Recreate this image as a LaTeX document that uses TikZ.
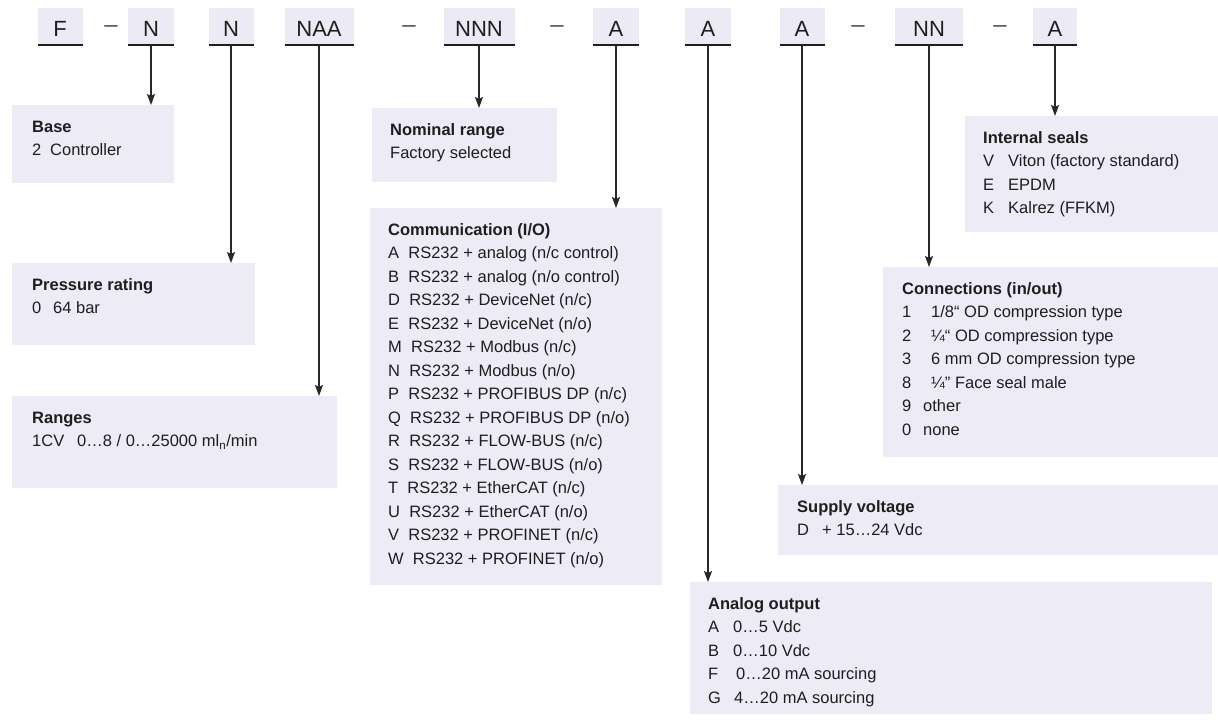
\documentclass[tikz,border=0pt]{standalone}
\usepackage{fontspec}
\setmainfont{Liberation Sans}
\usetikzlibrary{arrows.meta,calc}
\definecolor{boxfill}{RGB}{237,235,246}
\definecolor{codefill}{RGB}{236,234,244}
\definecolor{ink}{RGB}{30,30,30}
\definecolor{arrowc}{RGB}{40,40,40}
\definecolor{dashc}{RGB}{80,80,80}
\newcommand{\lines}[1]{\begin{tabular}[t]{@{}l@{}}#1\end{tabular}}
\newcommand{\col}[2]{\makebox[#1pt][l]{#2}}
\begin{document}
\begin{tikzpicture}[x=1pt,y=-1pt,
  infobox/.style={fill=boxfill, draw=none, inner sep=0pt, outer sep=0pt, anchor=north west},
  infotext/.style={anchor=base west, inner sep=0pt, text=ink, font=\fontsize{16.5}{23.5}\selectfont},
  codebox/.style={fill=codefill, inner sep=0pt, outer sep=0pt, minimum height=37pt,
     text height=20pt, text depth=0pt, text=ink, font=\fontsize{22}{26}\selectfont},
  codeline/.style={draw=ink, line width=2pt},
  dashtext/.style={text=dashc, font=\fontsize{24}{28}\selectfont, inner sep=0pt, anchor=base},
  arr/.style={draw=arrowc, line width=1.4pt, -{Stealth[length=11pt,width=8pt,inset=2pt]}}
]
\useasboundingbox (0,0) rectangle (1218,720);

% code row
\node[codebox, minimum width=45pt] (cF)   at (60,26.5)   {F};
\node[codebox, minimum width=46pt] (cN1)  at (151,26.5)  {N};
\node[codebox, minimum width=45pt] (cN2)  at (231,26.5)  {N};
\node[codebox, minimum width=69pt] (cNAA) at (319,26.5)  {NAA};
\node[codebox, minimum width=71pt] (cNNN) at (479,26.5)  {NNN};
\node[codebox, minimum width=46pt] (cA1)  at (616,26.5)  {A};
\node[codebox, minimum width=46pt] (cA2)  at (708,26.5)  {A};
\node[codebox, minimum width=45pt] (cA3)  at (802,26.5)  {A};
\node[codebox, minimum width=68pt] (cNN)  at (929,26.5)  {NN};
\node[codebox, minimum width=44pt] (cA4)  at (1055,26.5) {A};
\foreach \n in {cF,cN1,cN2,cNAA,cNNN,cA1,cA2,cA3,cNN,cA4}
  \draw[codeline] (\n.south west) -- (\n.south east);

\node[dashtext] (d1) at (111,32)  {–};
\node[dashtext] (d2) at (409,32)  {–};
\node[dashtext] (d3) at (557,32)  {–};
\node[dashtext] (d4) at (858,32)  {–};
\node[dashtext] (d5) at (1000,32) {–};

% boxes
\node[infobox, minimum width=162pt, minimum height=78pt]  (base)    at (12,105)  {};
\node[infobox, minimum width=243pt, minimum height=82pt]  (press)   at (12,263)  {};
\node[infobox, minimum width=325pt, minimum height=92pt]  (ranges)  at (12,396)  {};
\node[infobox, minimum width=185pt, minimum height=74pt]  (nominal) at (372,108) {};
\node[infobox, minimum width=292pt, minimum height=377pt] (comm)    at (370,208) {};
\node[infobox, minimum width=522pt, minimum height=132pt] (analog)  at (690,582) {};
\node[infobox, minimum width=440pt, minimum height=70pt]  (supply)  at (778,485) {};
\node[infobox, minimum width=335pt, minimum height=190pt] (conn)    at (883,267) {};
\node[infobox, minimum width=253pt, minimum height=116pt] (seals)   at (965,116) {};

% texts
\node[infotext] (baseT) at ($(base.north west)+(20,27)$)
  {\lines{\textbf{Base}\\ \col{18}{2}Controller}};
\node[infotext] (pressT) at ($(press.north west)+(20,27)$)
  {\lines{\textbf{Pressure rating}\\ \col{21}{0}64 bar}};
\node[infotext] (rangesT) at ($(ranges.north west)+(20,27)$)
  {\lines{\textbf{Ranges}\\ \col{45}{1CV}0…8 / 0…25000 ml\textsubscript{n}/min}};
\node[infotext] (nominalT) at ($(nominal.north west)+(18,27)$)
  {\lines{\textbf{Nominal range}\\ Factory selected}};
\node[infotext] (commT) at ($(comm.north west)+(18,27)$)
  {\lines{\textbf{Communication (I/O)}\\
   A\ \ RS232 + analog (n/c control)\\
   B\ \ RS232 + analog (n/o control)\\
   D\ \ RS232 + DeviceNet (n/c)\\
   E\ \ RS232 + DeviceNet (n/o)\\
   M\ \ RS232 + Modbus (n/c)\\
   N\ \ RS232 + Modbus (n/o)\\
   P\ \ RS232 + PROFIBUS DP (n/c)\\
   Q\ \ RS232 + PROFIBUS DP (n/o)\\
   R\ \ RS232 + FLOW-BUS (n/c)\\
   S\ \ RS232 + FLOW-BUS (n/o)\\
   T\ \ RS232 + EtherCAT (n/c)\\
   U\ \ RS232 + EtherCAT (n/o)\\
   V\ \ RS232 + PROFINET (n/c)\\
   W\ \ RS232 + PROFINET (n/o)}};
\node[infotext] (analogT) at ($(analog.north west)+(18,27)$)
  {\lines{\textbf{Analog output}\\
   \col{25}{A}0…5 Vdc\\
   \col{25}{B}0…10 Vdc\\
   \col{28}{F}0…20 mA sourcing\\
   \col{26}{G}4…20 mA sourcing}};
\node[infotext] (supplyT) at ($(supply.north west)+(19,27)$)
  {\lines{\textbf{Supply voltage}\\ \col{25}{D}+ 15…24 Vdc}};
\node[infotext] (connT) at ($(conn.north west)+(19,27)$)
  {\lines{\textbf{Connections (in/out)}\\
   \col{29}{1}1/8“ OD compression type\\
   \col{29}{2}¼“ OD compression type\\
   \col{29}{3}6 mm OD compression type\\
   \col{29}{8}¼” Face seal male\\
   \col{21}{9}other\\
   \col{21}{0}none}};
\node[infotext] (sealsT) at ($(seals.north west)+(18,27)$)
  {\lines{\textbf{Internal seals}\\
   \col{25}{V}Viton (factory standard)\\
   \col{25}{E}EPDM\\
   \col{25}{K}Kalrez (FFKM)}};

% arrows
\draw[arr] (cN1.south)  -- (cN1.south  |- base.north);
\draw[arr] (cN2.south)  -- (cN2.south  |- press.north);
\draw[arr] (cNAA.south) -- (cNAA.south |- ranges.north);
\draw[arr] (cNNN.south) -- (cNNN.south |- nominal.north);
\draw[arr] (cA1.south)  -- (cA1.south  |- comm.north);
\draw[arr] (cA2.south)  -- (cA2.south  |- analog.north);
\draw[arr] (cA3.south)  -- (cA3.south  |- supply.north);
\draw[arr] (cNN.south)  -- (cNN.south  |- conn.north);
\draw[arr] (cA4.south)  -- (cA4.south  |- seals.north);
\end{tikzpicture}
\end{document}
